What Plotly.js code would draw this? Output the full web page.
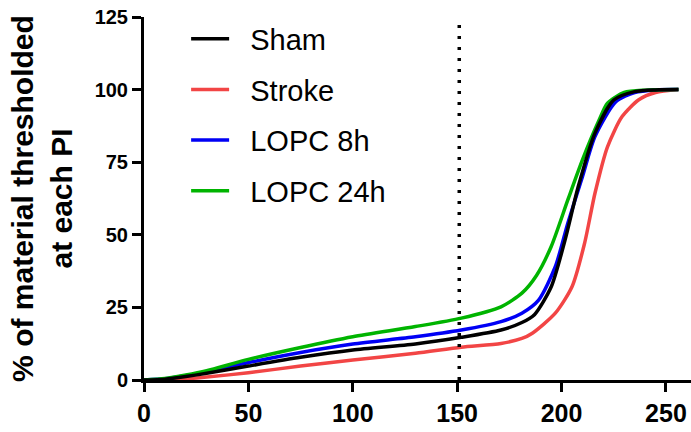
<!DOCTYPE html>
<html>
<head>
<meta charset="utf-8">
<script src="https://cdn.plot.ly/plotly-3.0.1.min.js"></script>
<style>html,body{margin:0;padding:0;background:#fff;}#chart{width:691px;height:432px;}</style>
</head>
<body>
<div id="chart"></div>
<script>
// Data
const seriesNames = ["Sham", "Stroke", "LOPC 8h", "LOPC 24h"];

const shamX = [0, 10, 20, 30, 50, 75, 100, 130, 152, 171, 181, 187, 195, 201.6, 208, 216, 225, 235, 245, 256];
const shamY = [0, 0.3, 1.2, 2.3, 4.8, 7.8, 10.3, 12.4, 14.7, 17.2, 19.8, 22.5, 32, 48, 66.6, 85, 96.4, 99.3, 99.9, 100];

const strokeX = [0, 10, 20, 30, 50, 75, 100, 130, 152, 171, 181, 186, 197, 205, 211, 216, 222, 229, 237, 245, 256];
const strokeY = [0, 0, 0.4, 1, 2.5, 4.8, 6.9, 9.2, 11.3, 12.6, 14.3, 16.1, 23, 32.1, 47, 64.3, 80.3, 90.7, 96.5, 99, 100];

const lopc8X = [0, 10, 20, 30, 50, 75, 100, 130, 152, 171, 181, 189, 197, 203, 210, 216, 226, 235, 245, 256];
const lopc8Y = [0, 0.4, 1.5, 2.8, 6, 9.5, 12.4, 14.9, 17.2, 20.1, 23, 27.5, 39, 54, 70, 83.8, 95.8, 99, 99.9, 100];

const lopc24X = [0, 10, 20, 30, 50, 75, 100, 130, 152, 171, 181, 188, 195, 203, 210, 218, 222, 230, 240, 256];
const lopc24Y = [0, 0.5, 1.7, 3.2, 7.1, 11.2, 14.9, 18.4, 21.3, 25.2, 29.9, 36, 45.9, 62, 75.8, 89.5, 95.3, 99, 99.8, 100];

const cutoffX = 151;

const xTicks = [0, 50, 100, 150, 200, 250];
const yTicks = [0, 25, 50, 75, 100, 125];

const colors = ["#000000", "#f24545", "#0000f5", "#00b400"];
const xs = [shamX, strokeX, lopc8X, lopc24X];
const ys = [shamY, strokeY, lopc8Y, lopc24Y];

const FONT = "Liberation Sans, Arial, Helvetica, sans-serif";
const PAD = "\u00a0\u00a0"; // gap between legend line and label

const traces = seriesNames.map((n, i) => ({
  type: "scatter",
  mode: "lines",
  name: PAD + n,
  x: xs[i],
  y: ys[i],
  legendgroup: "g" + i,
  legendrank: i + 1,
  line: {color: colors[i], width: 3.5, shape: "spline", smoothing: 0.7}
}));
// draw black last so it sits on top like the reference
const drawTraces = [1, 2, 3, 0].map(i => traces[i]);

const layout = {
  width: 691, height: 432,
  margin: {l: 144, r: 0, t: 17, b: 52},
  paper_bgcolor: "#fff", plot_bgcolor: "#fff",
  font: {family: FONT, color: "#000"},
  showlegend: true,
  legend: {
    x: 0.077, y: 1.01, xanchor: "left", yanchor: "top",
    font: {family: FONT, size: 29, color: "#000"},
    tracegroupgap: 10,
    itemwidth: 38,
    bgcolor: "rgba(0,0,0,0)",
    traceorder: "grouped"
  },
  xaxis: {
    range: [0, 262],
    tickvals: xTicks,
    ticktext: xTicks.map(String),
    showgrid: false, zeroline: false,
    showline: true, linecolor: "#000", linewidth: 3,
    ticks: "outside", ticklen: 9, tickwidth: 3, tickcolor: "#000",
    tickfont: {family: FONT, size: 25, weight: "bold", color: "#000"},
    fixedrange: true
  },
  yaxis: {
    range: [0, 125],
    tickvals: yTicks,
    ticktext: yTicks.map(String),
    showgrid: false, zeroline: false,
    showline: true, linecolor: "#000", linewidth: 3,
    ticks: "outside", ticklen: 9, tickwidth: 3, tickcolor: "#000",
    tickfont: {family: FONT, size: 20, weight: "bold", color: "#000"},
    title: {
      text: "% of material thresholded<br>at each PI",
      font: {family: FONT, size: 30, weight: "bold", color: "#000"},
      standoff: 14
    },
    fixedrange: true
  },
  shapes: [{
    type: "line", xref: "x", yref: "y",
    x0: cutoffX, x1: cutoffX, y0: 0, y1: 125,
    line: {color: "#000", width: 3.5, dash: "3px,8px"}
  }]
};

Plotly.newPlot("chart", drawTraces, layout, {displayModeBar: false, staticPlot: true});
</script>
</body>
</html>
